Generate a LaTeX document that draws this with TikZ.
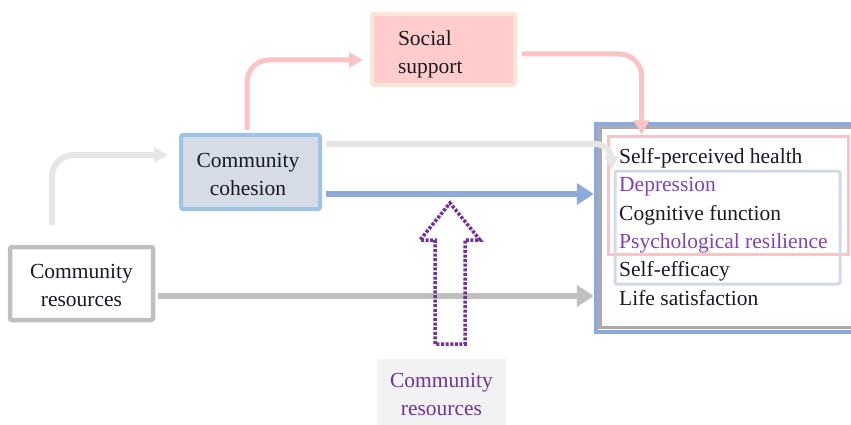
\documentclass[tikz,border=0pt]{standalone}
\usepackage{fontspec}
\setmainfont{Liberation Serif}
\usetikzlibrary{arrows.meta,calc}
\definecolor{txt}{RGB}{25,25,35}
\definecolor{purp}{RGB}{112,48,160}
\definecolor{purplt}{RGB}{128,64,190}
\definecolor{pinkarr}{RGB}{250,196,196}
\definecolor{pinkfill}{RGB}{255,204,204}
\definecolor{peach}{RGB}{251,229,214}
\definecolor{lgray}{RGB}{231,230,230}
\definecolor{mgray}{RGB}{191,191,191}
\definecolor{dgray}{RGB}{170,170,170}
\definecolor{blu}{RGB}{142,169,219}
\definecolor{cohfill}{RGB}{214,220,229}
\definecolor{cohline}{RGB}{157,195,230}
\definecolor{slate}{RGB}{210,217,228}
\definecolor{lblfill}{RGB}{242,242,242}
\tikzset{
  every node/.style={font=\fontsize{21.5}{28}\selectfont, text=txt},
  box/.style={rectangle, rounded corners=2pt, line width=4pt, align=center, inner sep=0pt},
  outtxt/.style={anchor=base west, inner sep=0pt},
  conn/.style={line width=6pt, rounded corners=22pt},
  tipS/.style={-{Triangle[length=14pt,width=15pt]}},
  tipL/.style={-{Triangle[length=17pt,width=21pt]}},
  frame/.style={draw, line width=3.5pt}
}
\begin{document}
\begin{tikzpicture}[x=1pt,y=-1pt]
\useasboundingbox (0,0) rectangle (851,425);
\clip (0,0) rectangle (851,425);

% outcome frames
\node[frame, draw=blu, line width=4.5pt, minimum width=274pt, minimum height=208pt, inner sep=0pt] (outB) at (733,228) {};
\node[frame, draw=dgray, line width=3.5pt, minimum width=266pt, minimum height=200pt, inner sep=0pt] (outG) at (733,227.5) {};
\node[frame, draw=pinkarr, line width=3pt, minimum width=240pt, minimum height=117pt, inner sep=0pt] (outP) at (728,195.5) {};
\node[frame, draw=slate, line width=3pt, minimum width=225pt, minimum height=113pt, inner sep=0pt, rounded corners=2pt] (outS) at (727.5,227.5) {};

\node[outtxt] (o1) at (619,163) {Self-perceived health};
\node[outtxt, text=purplt] (o2) at (619,191) {Depression};
\node[outtxt] (o3) at (619,220) {Cognitive function};
\node[outtxt, text=purplt] (o4) at (619,248) {Psychological resilience};
\node[outtxt] (o5) at (619,276) {Self-efficacy};
\node[outtxt] (o6) at (619,305) {Life satisfaction};

% boxes
\node[box, draw=peach, fill=pinkfill, minimum width=143pt, minimum height=71pt] (ss) at (443.5,49.5) {};
\node[inner sep=0pt, text width=91pt, align=left] (sst) at (443.5,54.5) {Social\\support};
\node[box, draw=cohline, fill=cohfill, minimum width=139pt, minimum height=74pt] (coh) at (250.5,172) {};
\node[inner sep=0pt, align=center] (coht) at (248,174) {Community\\cohesion};
\node[box, draw=mgray, fill=white, line width=4.5pt, minimum width=143pt, minimum height=73pt] (res) at (81.5,283.5) {};
\node[inner sep=0pt, align=center] (rest) at (81.5,285.5) {Community\\resources};
\node[rectangle, fill=lblfill, minimum width=129pt, minimum height=70pt, inner sep=0pt, align=center, text=purp] (lbl) at (441.5,394) {Community\\resources};

% connectors
\draw[conn, lgray, tipS] ($(res.north west)+(44,-20)$) |- ($(coh.west)+(-11,-17)$);
\draw[conn, pinkarr, line width=5pt, tipS] ($(coh.north)+(-3.5,-3)$) |- ($(ss.west)+(-7,10.5)$);
\draw[conn, pinkarr, line width=5pt, tipS] ($(ss.east)+(5,4.5)$) -| ($(outP.north west)+(35,-1)$);
\draw[conn, lgray, rounded corners=16pt, tipS] ($(coh.north east)+(4,11)$) -| ($(outS.north west)+(-2,0)$);
\coordinate (b1) at ($(coh.east)+(4,22)$);
\draw[conn, blu, tipL] (b1) -- (b1 -| outB.west);
\coordinate (g1) at ($(res.east)+(3,12.5)$);
\draw[conn, mgray, tipL] (g1) -- (g1 -| outB.west);

% dotted block arrow
\draw[purp, line width=3.5pt, dash pattern=on 3pt off 1.6pt, line join=miter]
  (435,344) -- (435,240) -- (420,240) -- (450,203) -- (480,240) -- (465,240) -- (465,344) -- cycle;
\end{tikzpicture}
\end{document}
